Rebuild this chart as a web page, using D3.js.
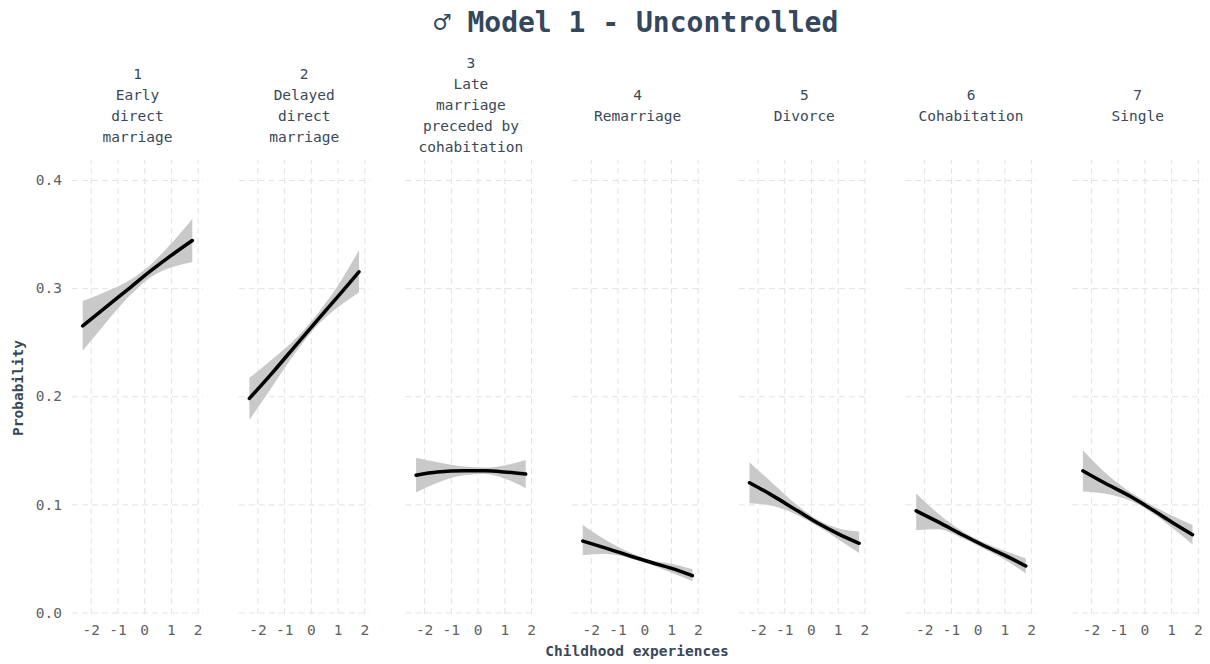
<!DOCTYPE html>
<html>
<head>
<meta charset="utf-8">
<script src="https://cdn.jsdelivr.net/npm/d3@7"></script>
<style>
    body { margin: 0; background: #ffffff; }
    svg text { font-family: "DejaVu Sans Mono", "Liberation Mono", monospace; }
    .grid line { stroke: #e3e3e3; stroke-width: 1; stroke-dasharray: 6,4; }
    .grid path { display: none; }
    .ticks path, .ticks line { display: none; }
    .ticks text { fill: #5f5f5f; font-size: 14.5px; }
</style>
</head>
<body>
<div id="chart"></div>
<script>
// Facet labels (one list of lines per panel)
const panelLabels = [
    ["1", "Early", "direct", "marriage"],
    ["2", "Delayed", "direct", "marriage"],
    ["3", "Late", "marriage", "preceded by", "cohabitation"],
    ["4", "Remarriage"],
    ["5", "Divorce"],
    ["6", "Cohabitation"],
    ["7", "Single"]
];

// Childhood experiences (x) where the curves are read
const xValues = [-2.3, -1.5, -0.5, 0.3, 1.0, 1.8];

// Predicted probability per panel
const probFit = [
    [0.265, 0.281, 0.301, 0.317, 0.330, 0.344],
    [0.198, 0.220, 0.249, 0.272, 0.292, 0.315],
    [0.127, 0.130, 0.131, 0.131, 0.130, 0.128],
    [0.066, 0.060, 0.052, 0.046, 0.041, 0.034],
    [0.120, 0.109, 0.094, 0.082, 0.073, 0.064],
    [0.094, 0.084, 0.071, 0.061, 0.053, 0.043],
    [0.131, 0.120, 0.107, 0.095, 0.084, 0.072]
];

// Lower and upper confidence bounds
const probLower = [
    [0.242, 0.266, 0.294, 0.311, 0.319, 0.324],
    [0.178, 0.207, 0.243, 0.267, 0.282, 0.296],
    [0.111, 0.120, 0.127, 0.128, 0.124, 0.115],
    [0.053, 0.054, 0.050, 0.044, 0.037, 0.029],
    [0.101, 0.099, 0.090, 0.079, 0.068, 0.055],
    [0.076, 0.077, 0.068, 0.058, 0.049, 0.036],
    [0.112, 0.110, 0.103, 0.092, 0.079, 0.063]
];
const probUpper = [
    [0.288, 0.296, 0.308, 0.323, 0.341, 0.364],
    [0.217, 0.233, 0.255, 0.278, 0.302, 0.335],
    [0.143, 0.139, 0.135, 0.134, 0.136, 0.141],
    [0.081, 0.068, 0.055, 0.048, 0.045, 0.040],
    [0.139, 0.121, 0.099, 0.085, 0.078, 0.075],
    [0.110, 0.092, 0.074, 0.064, 0.057, 0.050],
    [0.150, 0.130, 0.111, 0.099, 0.090, 0.081]
];

const xTicks = [-2, -1, 0, 1, 2];
const yTicks = [0, 0.1, 0.2, 0.3, 0.4];

function renderChart() {
    // Size and layout
    const wSvg = 1210, hSvg = 664,
        panelLeft = 72, panelStep = 166.7, panelW = 131,
        panelTop = 160, panelBottom = 614;

    const svg = d3.select("#chart").append("svg")
        .attr("width", wSvg)
        .attr("height", hSvg);

    // Scales
    const xScale = d3.scaleLinear()
        .domain([-2.7, 2.2])
        .range([0, panelW]);

    const yScale = d3.scaleLinear()
        .domain([-0.0014, 0.4185])
        .range([panelBottom, panelTop]);

    const area = d3.area()
        .x(d => xScale(d.x))
        .y0(d => yScale(d.lo))
        .y1(d => yScale(d.hi))
        .curve(d3.curveMonotoneX);

    const line = d3.line()
        .x(d => xScale(d.x))
        .y(d => yScale(d.y))
        .curve(d3.curveMonotoneX);

    // Title
    svg.append("text")
        .attr("x", 636)
        .attr("y", 22)
        .attr("text-anchor", "middle")
        .attr("dominant-baseline", "central")
        .style("font-size", "28px")
        .style("font-weight", "bold")
        .style("fill", "#34475b")
        .text("\u2642 Model 1 - Uncontrolled");

    panelLabels.forEach((labels, i) => {
        const g = svg.append("g")
            .attr("transform", `translate(${panelLeft + i * panelStep}, 0)`);

        // Grid
        g.append("g")
            .classed("grid", true)
            .attr("transform", `translate(0, ${panelBottom})`)
            .call(d3.axisBottom(xScale).tickValues(xTicks)
                .tickSize(-(panelBottom - panelTop)).tickFormat(""));

        g.append("g")
            .classed("grid", true)
            .call(d3.axisLeft(yScale).tickValues(yTicks)
                .tickSize(-panelW).tickFormat(""));

        // X tick labels (plain hyphen, as in the original)
        g.append("g")
            .classed("ticks", true)
            .attr("transform", `translate(0, ${panelBottom})`)
            .call(d3.axisBottom(xScale).tickValues(xTicks)
                .tickSize(0).tickPadding(11).tickFormat(d => String(d)));

        // Y tick labels only on the first panel
        if (i === 0) {
            g.append("g")
                .classed("ticks", true)
                .call(d3.axisLeft(yScale).tickValues(yTicks)
                    .tickSize(0).tickPadding(10).tickFormat(d => d.toFixed(1)));
        }

        // Strip label
        const nLines = labels.length;
        labels.forEach((txt, j) => {
            g.append("text")
                .attr("x", panelW / 2)
                .attr("y", 105 + (j - (nLines - 1) / 2) * 21)
                .attr("text-anchor", "middle")
                .attr("dominant-baseline", "central")
                .style("font-size", "14.5px")
                .style("fill", "#3a4858")
                .text(txt);
        });

        // Confidence band and fitted line
        const rows = xValues.map((x, k) => ({
            x: x,
            y: probFit[i][k],
            lo: probLower[i][k],
            hi: probUpper[i][k]
        }));

        g.append("path")
            .datum(rows)
            .attr("fill", "#c9c9c9")
            .attr("d", area);

        g.append("path")
            .datum(rows)
            .attr("fill", "none")
            .attr("stroke", "#000000")
            .attr("stroke-width", 3.5)
            .attr("stroke-linecap", "round")
            .attr("d", line);
    });

    // Axis titles
    svg.append("text")
        .attr("x", 637)
        .attr("y", 651)
        .attr("text-anchor", "middle")
        .attr("dominant-baseline", "central")
        .style("font-size", "14.5px")
        .style("font-weight", "bold")
        .style("fill", "#3a4858")
        .text("Childhood experiences");

    svg.append("text")
        .attr("transform", "translate(18, 388) rotate(-90)")
        .attr("text-anchor", "middle")
        .attr("dominant-baseline", "central")
        .style("font-size", "14.5px")
        .style("font-weight", "bold")
        .style("fill", "#3a4858")
        .text("Probability");
}

renderChart();
</script>
</body>
</html>
